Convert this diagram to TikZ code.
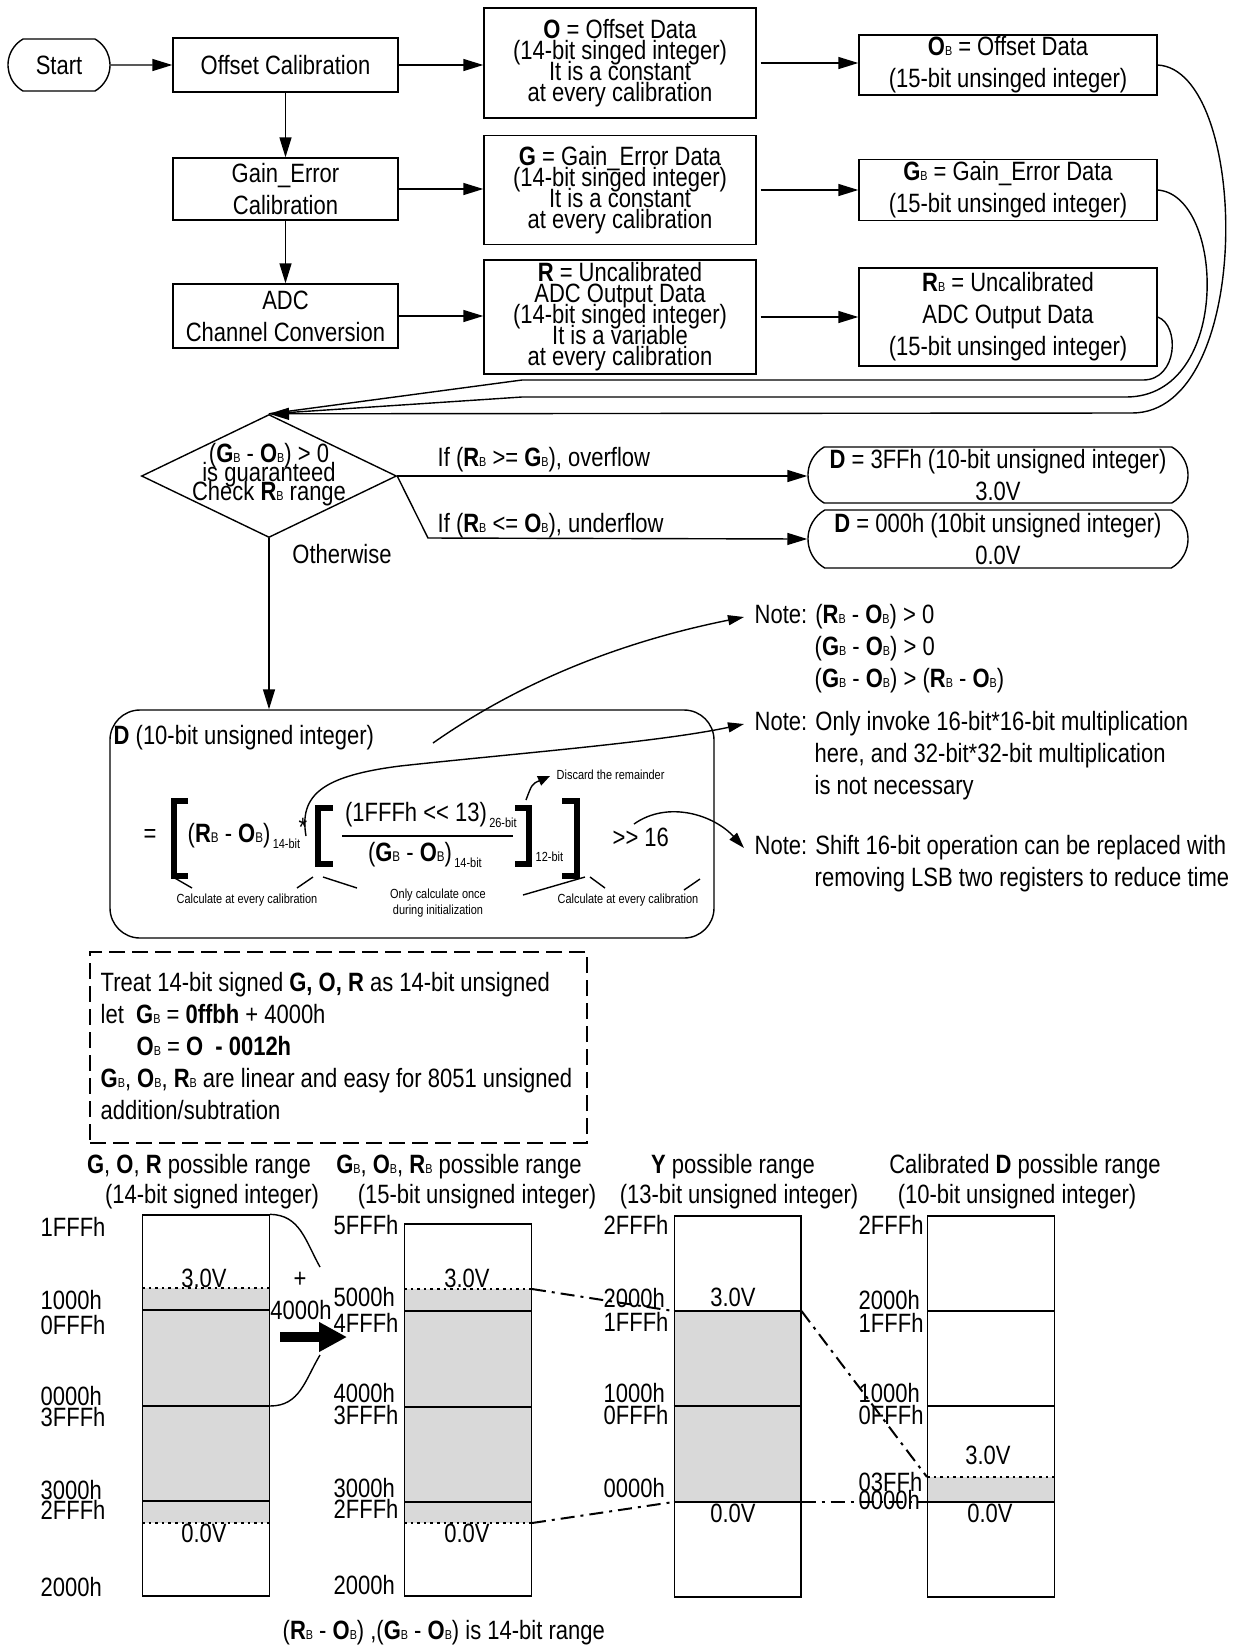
\documentclass[tikz,border=0pt]{standalone}
\usepackage{fontspec}
\setmainfont[FakeStretch=0.83]{Liberation Sans}
\usetikzlibrary{arrows.meta,shapes.geometric,shapes.misc}
\newcommand\bsub{{\fontsize{6.5}{6.5}\selectfont B}}
\newcommand\bsubf{{\fontsize{7}{7}\selectfont B}}
\newcommand\mainsz{\fontsize{13.25}{16}\selectfont}
\newcommand\tightsz{\fontsize{13.25}{10.5}\selectfont\lineskiplimit=-50pt\relax}
\newcommand\diasz{\fontsize{13.25}{9.5}\selectfont\lineskiplimit=-50pt\relax}
\newcommand\tinysz{\fontsize{6.6}{8}\selectfont}

\begin{document}
\begin{tikzpicture}[x=.5pt,y=-.5pt,font=\mainsz,line width=.7pt,
 >={Triangle[length=10pt,width=6pt]},
 box/.style={draw,inner sep=0pt,align=center,minimum width=112.5pt},
 datbox/.style={draw,inner sep=0pt,align=center,font=\tightsz,minimum width=136pt},
 bbox/.style={draw,inner sep=0pt,align=center,minimum width=149pt},
 pill/.style={draw,rounded rectangle,rounded rectangle arc length=120,inner sep=0pt,align=center},
 txt/.style={inner sep=0pt},
 lefttxt/.style={anchor=west,inner sep=0pt,align=left},
 smalltxt/.style={font=\tinysz,inner sep=0pt,align=center},
 subtxt/.style={font=\tinysz,inner sep=0pt,anchor=south west,xshift=.5pt},
 thin arrow/.style={-{Triangle[length=8pt,width=5pt]}},
 brk/.style={line width=3pt},
 lvl/.style={line width=1pt},
 dotlvl/.style={dotted,line width=1.3pt},
 dashdot/.style={line width=1pt,dash pattern=on 7pt off 3pt on 1.5pt off 3pt},
 col/.style={draw,inner sep=0pt,minimum width=63.3pt,minimum height=190.5pt}]
 \useasboundingbox (0,0) rectangle (1237,1646);

 \node[pill,minimum width=51pt,minimum height=26pt] (start) at (59,65) {Start};
 \node[box,minimum height=27pt] (offcal) at (285.5,65) {Offset Calibration};
 \node[box,minimum height=31pt] (gaincal) at (285.5,189) {Gain\_Error\\Calibration};
 \node[box,minimum height=32pt] (adcconv) at (285.5,316) {ADC\\Channel Conversion};
 \node[datbox,minimum height=55pt] (odata) at (620,63) {\textbf{O} = Offset Data\\(14-bit singed integer)\\It is a constant\\at every calibration};
 \node[datbox,minimum height=54.5pt] (gdata) at (620,190) {\textbf{G} = Gain\_Error Data\\(14-bit singed integer)\\It is a constant\\at every calibration};
 \node[datbox,minimum height=57pt] (rdata) at (620,317) {\textbf{R} = Uncalibrated\\ADC Output Data\\(14-bit singed integer)\\It is a variable\\at every calibration};
 \node[bbox,minimum height=30pt] (obdata) at (1008,65) {\textbf{O}\bsub{} = Offset Data\\(15-bit unsinged integer)};
 \node[bbox,minimum height=30.5pt] (gbdata) at (1008,190) {\textbf{G}\bsub{} = Gain\_Error Data\\(15-bit unsinged integer)};
 \node[bbox,minimum height=49pt] (rbdata) at (1008,317) {\textbf{R}\bsub{} = Uncalibrated\\ADC Output Data\\(15-bit unsinged integer)};

 \draw[->] (start) -- (offcal);
 \draw[->] (offcal) -- (gaincal);
 \draw[->] (gaincal) -- (adcconv);
 \draw[->] (offcal.east) -- (offcal.east -| odata.west);
 \draw[->] (gaincal.east) -- (gaincal.east -| gdata.west);
 \draw[->] (adcconv.east) -- (adcconv.east -| rdata.west);
 \draw[->,shorten <=2pt] (odata.east) -- (odata.east -| obdata.west);
 \draw[->,shorten <=2pt] (gdata.east) -- (gdata.east -| gbdata.west);
 \draw[->,shorten <=2pt] (rdata.east) -- (rdata.east -| rbdata.west);

 \node[draw,diamond,minimum width=127.5pt,minimum height=61.5pt,inner sep=0pt] (check) at (269,476) {};
 \node[txt,font=\diasz,align=center] (checktxt) at (269,475) {(\textbf{G}\bsub{} - \textbf{O}\bsub) > 0\\is guaranteed\\Check \textbf{R}\bsub{} range};

 \draw[->] (obdata.east) .. controls (1250,70) and (1255,413) .. (1132,413) -- (check.north);
 \draw (gbdata.east) .. controls (1225,195) and (1232,397) .. (1126,397) -- (522,397) -- (check.north);
 \draw (rbdata.east) .. controls (1180,325) and (1178,380) .. (1143,380) -- (522,380) -- (check.north);

 \node[pill,minimum width=190pt,minimum height=28pt] (dover) at (998,475) {\textbf{D} = 3FFh (10-bit unsigned integer)\\3.0V};
 \node[pill,minimum width=190pt,minimum height=29pt] (dunder) at (998,539) {\textbf{D} = 000h (10bit unsigned integer)\\0.0V};
 \coordinate (ubend) at (428,538);
 \draw[->] (check.east) -- (check.east -| dover.west);
 \draw[->] (check.east) -- (ubend) -- (dunder.west);
 \node[lefttxt] (ovl) at (437,460) {If (\textbf{R}\bsub{} >= \textbf{G}\bsub), overflow};
 \node[lefttxt] (unl) at (437,526) {If (\textbf{R}\bsub{} <= \textbf{O}\bsub), underflow};
 \node[txt] (othw) at (342,554) {Otherwise};

 \node[draw,rounded corners=15pt,minimum width=302pt,minimum height=114pt,inner sep=0pt] (dcalc) at (412,824) {};
 \draw[->] (check.south) -- (check.south |- dcalc.north);
 \node[lefttxt] (dlab) at (113,738) {\textbf{D} (10-bit unsigned integer)};

 \node[txt] (eq) at (150,836) {=};
 \draw[brk] (188,801) -- (174,801) -- (174,876) -- (188,876);
 \node[lefttxt] (rmo) at (187,836) {(\textbf{R}\bsubf{} - \textbf{O}\bsubf)};
 \node[subtxt] (sub1) at (rmo.south east) {14-bit};
 \node[txt] (star) at (303,827) {*};
 \draw[brk] (333,808) -- (318,808) -- (318,864) -- (333,864);
 \node[txt] (num) at (416,815) {(1FFFh <\kern0pt< 13)};
 \node[subtxt] (sub2) at (num.south east) {26-bit};
 \draw (342,836) -- (513,836);
 \node[txt] (den) at (410,855) {(\textbf{G}\bsubf{} - \textbf{O}\bsubf)};
 \node[subtxt] (sub3) at (den.south east) {14-bit};
 \draw[brk] (515,808) -- (529,808) -- (529,864) -- (515,864);
 \node[smalltxt,anchor=west] (sub4) at (535,857) {12-bit};
 \draw[brk] (562,801) -- (577,801) -- (577,876) -- (562,876);
 \node[lefttxt] (shr) at (612,837) {>\kern0pt> 16};

 \draw (173,877) -- (192,888);
 \draw (297,888) -- (313,877);
 \draw (323,877) -- (357,888);
 \draw (523,895) -- (585,877);
 \draw (590,877) -- (605,888);
 \draw (684,890) -- (700,879);
 \node[smalltxt] (cal1) at (247,900) {Calculate at every calibration};
 \node[smalltxt] (once) at (438,903) {Only calculate once\\during initialization};
 \node[smalltxt] (cal2) at (628,900) {Calculate at every calibration};
 \node[smalltxt,anchor=west] (disc) at (556,775) {Discard the remainder};
 \coordinate (c4s) at (526,800);
 \coordinate (tip4) at (550,776);
 \draw[-{Triangle[length=6pt,width=5pt]}] (c4s) .. controls (532,784) .. (tip4);

 \node[lefttxt] (note1) at (754,649) {Note: (\textbf{R}\bsub{} - \textbf{O}\bsub) > 0\\\hspace*{30pt}(\textbf{G}\bsub{} - \textbf{O}\bsub) > 0\\\hspace*{30pt}(\textbf{G}\bsub{} - \textbf{O}\bsub) > (\textbf{R}\bsub{} - \textbf{O}\bsub)};
 \node[lefttxt] (note2) at (754,756) {Note: Only invoke 16-bit*16-bit multiplication\\\hspace*{30pt}here, and 32-bit*32-bit multiplication\\\hspace*{30pt}is not necessary};
 \node[lefttxt] (note3) at (754,864) {Note: Shift 16-bit operation can be replaced with\\\hspace*{30pt}removing LSB two registers to reduce time};
 \coordinate (c1s) at (433,743);
 \coordinate (tip1) at (744,617);
 \draw[thin arrow] (c1s) .. controls (520,682) and (620,642) .. (tip1);
 \coordinate (c2s) at (306,836);
 \coordinate (tip2) at (744,724);
 \draw[thin arrow] (c2s) .. controls (299,795) and (322,776) .. (400,766) .. controls (520,753) and (660,742) .. (tip2);
 \coordinate (c3s) at (634,824);
 \coordinate (tip3) at (744,848);
 \draw[thin arrow] (c3s) .. controls (668,800) and (714,815) .. (tip3);

 \node[draw,dash pattern=on 8pt off 3.5pt,line width=1.3pt,minimum width=248.5pt,minimum height=95.5pt,inner sep=0pt] (treat) at (338.5,1047.5) {};
 \node[lefttxt] (treattxt) at (100,1046) {Treat 14-bit signed \textbf{G, O, R} as 14-bit unsigned\\let\ \ \textbf{G}\bsub{} = \textbf{0ffbh} + 4000h\\\hspace*{18pt}\textbf{O}\bsub{} = \textbf{O\ \ - 0012h}\\\textbf{G}\bsub, \textbf{O}\bsub, \textbf{R}\bsub{} are linear and easy for 8051 unsigned\\addition/subtration};

 \node[txt] (h1a) at (199,1167) {\textbf{G}, \textbf{O}, \textbf{R} possible range};
 \node[txt] (h1b) at (212,1197) {(14-bit signed integer)};
 \node[txt] (h2a) at (459,1167) {\textbf{G}\bsub, \textbf{O}\bsub, \textbf{R}\bsub{} possible range};
 \node[txt] (h2b) at (477,1197) {(15-bit unsigned integer)};
 \node[txt] (h3a) at (733,1167) {\textbf{Y} possible range};
 \node[txt] (h3b) at (739,1197) {(13-bit unsigned integer)};
 \node[txt] (h4a) at (1025,1167) {Calibrated \textbf{D} possible range};
 \node[txt] (h4b) at (1017,1197) {(10-bit unsigned integer)};

 \fill[black!15] (143,1288) rectangle (269,1523);
 \fill[black!15] (405,1289) rectangle (531,1523);
 \fill[black!15] (674,1311) rectangle (801,1502);
 \fill[black!15] (928,1477) rectangle (1054,1502);
 \node[col] (col1) at (206,1405.5) {};
 \node[col,minimum height=186pt] (col2) at (468,1410) {};
 \node[col] (col3) at (737.5,1406.5) {};
 \node[col] (col4) at (991,1406.5) {};
 \foreach \y in {1310,1406,1501} \draw[lvl] (col1.west |- 0,\y) -- (col1.east |- 0,\y);
 \foreach \y in {1311,1407,1502} \draw[lvl] (col2.west |- 0,\y) -- (col2.east |- 0,\y);
 \foreach \y in {1311,1406,1502} \draw[lvl] (col3.west |- 0,\y) -- (col3.east |- 0,\y);
 \foreach \y in {1311,1406,1502} \draw[lvl] (col4.west |- 0,\y) -- (col4.east |- 0,\y);
 \draw[dotlvl] (col1.west |- 0,1288) -- (col1.east |- 0,1288);
 \draw[dotlvl] (col1.west |- 0,1523) -- (col1.east |- 0,1523);
 \draw[dotlvl] (col2.west |- 0,1289) -- (col2.east |- 0,1289);
 \draw[dotlvl] (col2.west |- 0,1523) -- (col2.east |- 0,1523);
 \draw[dotlvl] (col4.west |- 0,1477) -- (col4.east |- 0,1477);

 \foreach \t/\y [count=\i] in {1FFFh/1227,1000h/1300,0FFFh/1325,0000h/1396,3FFFh/1417,3000h/1490,2FFFh/1510,2000h/1587}
  \node[lefttxt] (la\i) at (40,\y) {\t};
 \foreach \t/\y [count=\i] in {5FFFh/1225,5000h/1297,4FFFh/1323,4000h/1393,3FFFh/1415,3000h/1488,2FFFh/1509,2000h/1585}
  \node[lefttxt] (lb\i) at (333,\y) {\t};
 \foreach \t/\y [count=\i] in {2FFFh/1225,2000h/1298,1FFFh/1322,1000h/1393,0FFFh/1415,0000h/1488}
  \node[lefttxt] (lc\i) at (603,\y) {\t};
 \foreach \t/\y [count=\i] in {2FFFh/1225,2000h/1300,1FFFh/1323,1000h/1393,0FFFh/1415,03FFh/1482,0000h/1500}
  \node[lefttxt] (ld\i) at (858,\y) {\t};

 \node[txt] (va1) at (204,1278) {3.0V};
 \node[txt] (vb1) at (204,1533) {0.0V};
 \node[txt] (va2) at (467,1278) {3.0V};
 \node[txt] (vb2) at (467,1533) {0.0V};
 \node[txt] (va3) at (733,1297) {3.0V};
 \node[txt] (vb3) at (733,1513) {0.0V};
 \node[txt] (va4) at (988,1455) {3.0V};
 \node[txt] (vb4) at (990,1513) {0.0V};

 \node[txt] (plus) at (300,1280) {+};
 \node[txt] (add) at (301,1310) {4000h};
 \draw (col1.north east) .. controls (300,1215) and (305,1240) .. (320,1267);
 \draw (col1.east |- 0,1406) .. controls (300,1406) and (305,1380) .. (320,1355);
 \draw[line width=5pt,-{Triangle[length=14pt,width=14pt]}] (280,1337) -- (347,1337);

 \coordinate (t2) at (col2.east |- 0,1289);
 \coordinate (b2) at (col2.east |- 0,1523);
 \coordinate (t3l) at (col3.west |- 0,1311);
 \coordinate (b3l) at (col3.west |- 0,1502);
 \coordinate (t3r) at (col3.east |- 0,1311);
 \coordinate (b3r) at (col3.east |- 0,1502);
 \coordinate (t4) at (col4.west |- 0,1477);
 \coordinate (b4) at (col4.west |- 0,1502);
 \draw[dashdot] (t2) -- (t3l);
 \draw[dashdot] (b2) -- (b3l);
 \draw[dashdot] (t3r) -- (t4);
 \draw[dashdot] (b3r) -- (b4);

 \node[lefttxt] (rng) at (282,1633) {(\textbf{R}\bsub{} - \textbf{O}\bsub) ,(\textbf{G}\bsub{} - \textbf{O}\bsub) is 14-bit range};
\end{tikzpicture}
\end{document}
